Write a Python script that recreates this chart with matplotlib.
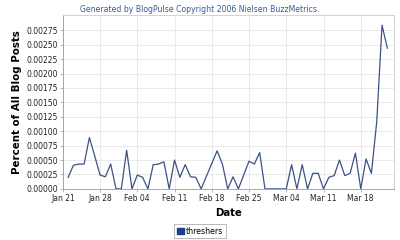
#!/usr/bin/env python3
"""BlogPulse trend chart: share of blog posts mentioning 'threshers'."""

import numpy as np
import pandas as pd
import matplotlib
matplotlib.use("Agg")
import matplotlib.pyplot as plt
import matplotlib.dates as mdates
from matplotlib.patches import Patch

# daily values, Jan 22 .. Mar 23 2006 (percent of all blog posts)
start_day = "2006-01-22"
threshers = [
    0.00020, 0.00041, 0.00043, 0.00043, 0.00089, 0.00057, 0.00024, 0.00021,
    0.00043, 0.0, 0.0, 0.00067, 0.0, 0.00024, 0.00020, 0.0,
    0.00042, 0.00043, 0.00047, 0.0, 0.00050, 0.00020, 0.00042, 0.00021,
    0.00020, 0.0, 0.00022, 0.00044, 0.00066, 0.00043, 0.0, 0.00021,
    0.0, 0.00024, 0.00048, 0.00043, 0.00063, 0.0, 0.0, 0.0,
    0.0, 0.0, 0.00042, 0.0, 0.00042, 0.0, 0.00027, 0.00027,
    0.0, 0.00020, 0.00023, 0.00050, 0.00023, 0.00027, 0.00062, 0.0,
    0.00052, 0.00027, 0.00116, 0.00284, 0.00244,
]
dates = pd.date_range(start_day, periods=len(threshers), freq="D")

tick_dates = pd.date_range("2006-01-21", "2006-03-18", freq="7D")
y_ticks = np.arange(0, 0.00276, 0.00025)

series_name = "threshers"
title_txt = "Generated by BlogPulse Copyright 2006 Nielsen BuzzMetrics."

line_col = "#3b5285"
grid_col = "#e6e6e6"
tick_col = "#222222"

fig = plt.figure(figsize=(4.0, 2.4), dpi=100)
ax = fig.add_axes([0.157, 0.213, 0.828, 0.723])

ax.plot(dates, threshers, color=line_col, lw=0.9)

ax.set_xlim(pd.Timestamp("2006-01-21 04:00"), pd.Timestamp("2006-03-24 06:00"))
ax.set_ylim(0, 0.00301)

ax.set_xticks(tick_dates)
ax.xaxis.set_major_formatter(mdates.DateFormatter("%b %d"))
ax.set_yticks(y_ticks)
ax.yaxis.set_major_formatter(matplotlib.ticker.FormatStrFormatter("%.5f"))

ax.grid(True, color=grid_col, lw=0.6)
ax.set_axisbelow(True)
ax.tick_params(labelsize=5.5, colors=tick_col, length=2, width=0.5,
               pad=1.5, color="#999999")
for side in ("top", "right"):
    ax.spines[side].set_color("#cccccc")
    ax.spines[side].set_linewidth(0.6)
for side in ("left", "bottom"):
    ax.spines[side].set_color("#999999")
    ax.spines[side].set_linewidth(0.6)

ax.set_xlabel("Date", fontsize=7.3, fontweight="bold", labelpad=4)
ax.set_ylabel("Percent of All Blog Posts", fontsize=7.4, fontweight="bold",
              labelpad=3)

fig.text(0.5, 0.978, title_txt, ha="center", va="top", fontsize=5.6,
         color="#3a5a96")

handle = Patch(facecolor="#1c3c8c", edgecolor="#1c3c8c", label=series_name)
leg = fig.legend(handles=[handle], loc="center", bbox_to_anchor=(0.5, 0.037),
                 fontsize=5.6, frameon=True, fancybox=False,
                 handlelength=0.9, handleheight=0.9, handletextpad=0.3,
                 borderpad=0.35, borderaxespad=0)
leg.get_frame().set_edgecolor("#999999")
leg.get_frame().set_linewidth(0.6)

fig.savefig("out.png", dpi=100)
